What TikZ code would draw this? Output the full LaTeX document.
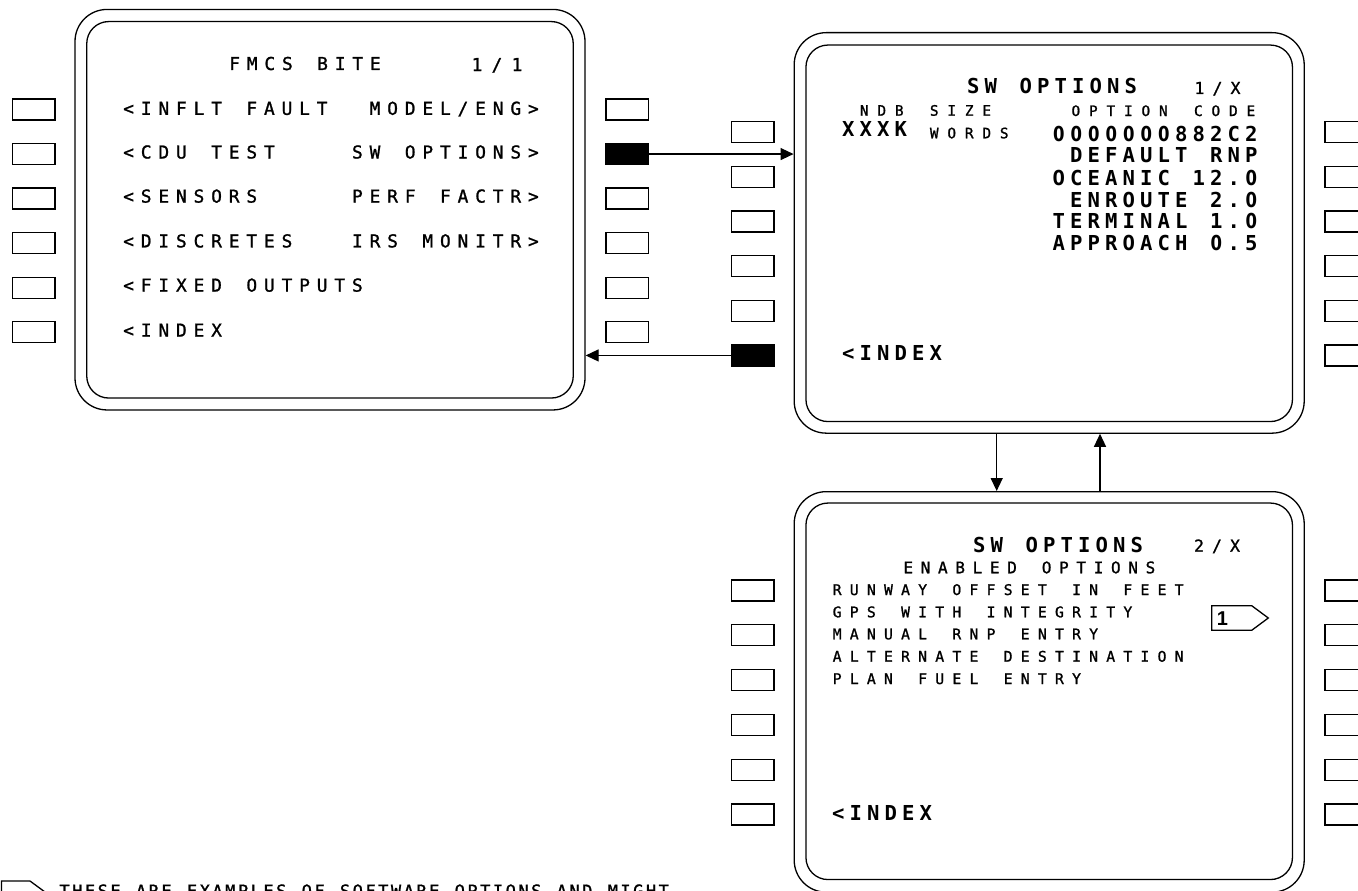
\documentclass[tikz,border=0pt]{standalone}
\usepackage{fontspec}
\newfontfamily\cdumono{DejaVu Sans Mono}
\newfontfamily\cdumed[FakeBold=1.2]{DejaVu Sans Mono}
\newfontfamily\cduzero{DejaVu Sans}
\newfontfamily\helv{Liberation Sans}
\usetikzlibrary{arrows.meta}
\ExplSyntaxOn
\NewDocumentCommand\cdu{mm}{
  \str_map_inline:nn {#2} {
    \makebox[#1][c]{\str_if_eq:nnTF {##1} {0} {\cduzero\scalebox{0.8}[1]{0}} {##1}}
  }
}
\ExplSyntaxOff
\tikzset{
  lw/.style={line width=1.3pt},
  outerscr/.style={draw, lw, rounded corners=32pt, inner sep=0pt, minimum width=510pt, minimum height=400.5pt},
  innerscr/.style={draw, lw, rounded corners=22pt, inner sep=0pt, minimum width=486.5pt, minimum height=376.5pt},
  btn/.style={draw, lw, inner sep=0pt, minimum width=42.3pt, minimum height=21pt},
  btnon/.style={btn, fill=black},
  arr/.style={lw, -{Triangle[length=13pt,width=12pt]}},
  tl/.style={inner sep=0pt, anchor=base west},
  tr/.style={inner sep=0pt, anchor=base east},
  tc/.style={inner sep=0pt, anchor=base},
  fmid/.style={font=\cdumed\fontsize{17.8pt}{20pt}\selectfont},
  fbig/.style={font=\cdumono\bfseries\fontsize{20.6pt}{22pt}\selectfont},
  fsml/.style={font=\cdumed\fontsize{14.4pt}{16pt}\selectfont},
  fpg/.style={font=\cdumed\fontsize{16.5pt}{18pt}\selectfont},
  flst/.style={font=\cdumed\fontsize{14.7pt}{16pt}\selectfont},
  fena/.style={font=\cdumed\fontsize{16pt}{18pt}\selectfont},
}
\begin{document}
\begin{tikzpicture}[x=1pt,y=-1pt]
\fill[white] (0,0) rectangle (1358,891);
\useasboundingbox (0,0) rectangle (1358,891);

% screens
\node[outerscr] (Ao) at (330,209.7) {};
\node[innerscr] (Ai) at (330,209.8) {};
\node[outerscr] (Bo) at (1049.2,232.9) {};
\node[innerscr] (Bi) at (1049.2,233.3) {};
\node[outerscr] (Co) at (1049.2,691.9) {};
\node[innerscr] (Ci) at (1049.2,691.3) {};

% line select keys
\foreach \i/\sa/\sb in {1/btn/btn,2/btn/btnon,3/btn/btn,4/btn/btn,5/btn/btn,6/btn/btn} {
  \node[\sa] (AL\i) at (33.9, {109.5+44.55*(\i-1)}) {};
  \node[\sb] (AR\i) at (627, {109.5+44.55*(\i-1)}) {};
}
\foreach \i/\sa in {1/btn,2/btn,3/btn,4/btn,5/btn,6/btnon} {
  \node[\sa] (BL\i) at (752.9, {132.2+44.65*(\i-1)}) {};
  \node[btn] (BR\i) at (1346.2, {132.2+44.65*(\i-1)}) {};
}
\foreach \i in {1,...,6} {
  \node[btn] (CL\i) at (752.9, {590.5+44.8*(\i-1)}) {};
  \node[btn] (CR\i) at (1346.2, {590.5+44.8*(\i-1)}) {};
}

% connectors
\draw[arr] (AR2.east) -- (AR2.east -| Bo.west);
\draw[arr] (BL6.west) -- (BL6.west -| Ao.east);
\coordinate (dn) at (996.7,460);
\coordinate (up) at (1100,460);
\draw[arr] (dn |- Bo.south) -- (dn |- Co.north);
\draw[arr] (up |- Co.north) -- (up |- Bo.south);

% screen A text
\node[tl,fmid] (a0) at (225.6,70) {\cdu{17.6pt}{FMCS BITE}};
\node[tc,fmid] (ap) at (497,71) {\cdu{20pt}{1/1}};
\node[tl,fmid] (a1) at (119.6,114.8) {\cdu{17.6pt}{<INFLT FAULT}};
\node[tl,fmid] (a2) at (119.6,158.5) {\cdu{17.6pt}{<CDU TEST}};
\node[tl,fmid] (a3) at (119.6,202.6) {\cdu{17.6pt}{<SENSORS}};
\node[tl,fmid] (a4) at (119.6,247.4) {\cdu{17.6pt}{<DISCRETES}};
\node[tl,fmid] (a5) at (119.6,291.6) {\cdu{17.6pt}{<FIXED OUTPUTS}};
\node[tl,fmid] (a6) at (119.6,336.6) {\cdu{17.6pt}{<INDEX}};
\node[tr,fmid] (b1) at (542.4,114.8) {\cdu{17.6pt}{MODEL/ENG>}};
\node[tr,fmid] (b2) at (542.4,158.5) {\cdu{17.6pt}{SW OPTIONS>}};
\node[tr,fmid] (b3) at (542.4,202.6) {\cdu{17.6pt}{PERF FACTR>}};
\node[tr,fmid] (b4) at (542.4,247.4) {\cdu{17.6pt}{IRS MONITR>}};

% screen B text
\node[tl,fbig] (c0) at (964.4,93.3) {\cdu{17.5pt}{SW OPTIONS}};
\node[tc,fpg] (cp) at (1217.5,94) {\cdu{18pt}{1/X}};
\node[tl,fsml] (c1) at (855.3,115.7) {\cdu{17.5pt}{NDB SIZE}};
\node[tr,fsml] (c2) at (1259.8,116) {\cdu{17.5pt}{OPTION CODE}};
\node[tl,fbig] (c3) at (839.4,136.7) {\cdu{17.5pt}{XXXK}};
\node[tl,fsml] (c4) at (925.3,138.3) {\cdu{17.5pt}{WORDS}};
\node[tr,fbig] (c5) at (1260.3,141.7) {\cdu{17.5pt}{0000000882C2}};
\node[tr,fbig] (c6) at (1260.3,162.7) {\cdu{17.5pt}{DEFAULT RNP}};
\node[tr,fbig] (c7) at (1260.3,185.7) {\cdu{17.5pt}{OCEANIC 12.0}};
\node[tr,fbig] (c8) at (1260.3,207.3) {\cdu{17.5pt}{ENROUTE  2.0}};
\node[tr,fbig] (c9) at (1260.3,228.3) {\cdu{17.5pt}{TERMINAL  1.0}};
\node[tr,fbig] (c10) at (1260.3,250) {\cdu{17.5pt}{APPROACH  0.5}};
\node[tl,fbig] (c11) at (839.4,360.7) {\cdu{17.5pt}{<INDEX}};

% screen C text
\node[tl,fbig] (d0) at (970.4,552.7) {\cdu{17.5pt}{SW OPTIONS}};
\node[tc,fpg] (dp) at (1217,551.7) {\cdu{18pt}{2/X}};
\node[tl,fena] (d1) at (899.4,573.3) {\cdu{17.3pt}{ENABLED OPTIONS}};
\node[tl,flst] (d2) at (828.4,595) {\cdu{17.1pt}{RUNWAY OFFSET IN FEET}};
\node[tl,flst] (d3) at (828.4,617.3) {\cdu{17.1pt}{GPS WITH INTEGRITY}};
\node[tl,flst] (d4) at (828.4,639.3) {\cdu{17.1pt}{MANUAL RNP ENTRY}};
\node[tl,flst] (d5) at (828.4,661.7) {\cdu{17.1pt}{ALTERNATE DESTINATION}};
\node[tl,flst] (d6) at (828.4,684) {\cdu{17.1pt}{PLAN FUEL ENTRY}};
\node[tl,fbig] (d7) at (829.4,820) {\cdu{17.5pt}{<INDEX}};

% note flag
\draw[lw] (1211.7,605.7) coordinate (m1) -- (1251.7,605.7) -- (1268.3,618) -- (1251.7,630.3) -- (1211.7,630.3) -- cycle;
\node[tc,font=\helv\bfseries\fontsize{20pt}{20pt}\selectfont] (mk) at (1222.5,625.2) {1};

% footnote
\draw[lw] (1.5,881) -- (30,881) -- (47,893.5) -- (30,906) -- (1.5,906) -- cycle;
\node[tl,font=\cdumed\fontsize{17pt}{18pt}\selectfont] (fn) at (58,897) {\cdu{12.75pt}{THESE ARE EXAMPLES OF SOFTWARE OPTIONS AND MIGHT}};
\end{tikzpicture}
\end{document}
